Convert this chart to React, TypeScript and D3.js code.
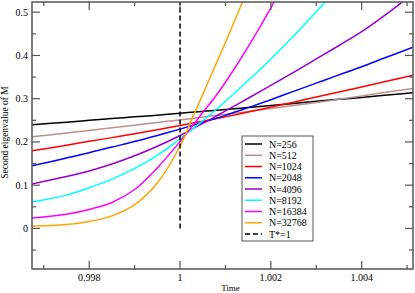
import * as d3 from 'd3'

// time grid shared by all series
const TIMES = [
  0.99674, 0.9975, 0.998, 0.9985, 0.999, 0.9995, 1.0, 1.00025, 1.0005, 1.00075,
  1.001, 1.0015, 1.002, 1.0025, 1.003, 1.0035, 1.004, 1.0045, 1.00513,
]

const N256 = [0.2395, 0.2457, 0.25, 0.254, 0.258, 0.262, 0.2665, 0.2686, 0.2707, 0.2728, 0.275, 0.2795, 0.2842, 0.289, 0.294, 0.2985, 0.303, 0.308, 0.314]
const N512 = [0.2118, 0.2206, 0.2266, 0.2327, 0.2388, 0.245, 0.251, 0.2543, 0.2576, 0.2609, 0.264, 0.2706, 0.2773, 0.284, 0.291, 0.2985, 0.306, 0.3145, 0.3238]
const N1024 = [0.1794, 0.1925, 0.2014, 0.21, 0.2187, 0.2282, 0.238, 0.243, 0.248, 0.253, 0.258, 0.269, 0.2805, 0.292, 0.304, 0.3155, 0.327, 0.339, 0.354]
const N2048 = [0.1448, 0.1628, 0.175, 0.1883, 0.201, 0.215, 0.2296, 0.2374, 0.2452, 0.2532, 0.2614, 0.2793, 0.2977, 0.317, 0.336, 0.355, 0.3737, 0.394, 0.419]
const N4096 = [0.103, 0.12, 0.133, 0.149, 0.168, 0.19, 0.215, 0.229, 0.243, 0.257, 0.272, 0.301, 0.331, 0.361, 0.392, 0.423, 0.455, 0.492, 0.543]
const N8192 = [0.061, 0.077, 0.094, 0.114, 0.139, 0.169, 0.207, 0.228, 0.249, 0.271, 0.294, 0.342, 0.392, 0.445, 0.501, 0.56, 0.62, 0.68, 0.76]
const N16384 = [0.024, 0.033, 0.044, 0.06, 0.09, 0.14, 0.201, 0.234, 0.268, 0.301, 0.338, 0.42, 0.51, 0.61, 0.71]
const N32768 = [0.005, 0.009, 0.016, 0.029, 0.055, 0.105, 0.19, 0.25, 0.31, 0.37, 0.43, 0.555, 0.68]

const SERIES = [
  { name: 'N=256', color: '#000000', values: N256 },
  { name: 'N=512', color: '#bc8f8f', values: N512 },
  { name: 'N=1024', color: '#ff0000', values: N1024 },
  { name: 'N=2048', color: '#0000ff', values: N2048 },
  { name: 'N=4096', color: '#9400d3', values: N4096 },
  { name: 'N=8192', color: '#00ffff', values: N8192 },
  { name: 'N=16384', color: '#ff00ff', values: N16384 },
  { name: 'N=32768', color: '#ffa500', values: N32768 },
]

const X_MAJOR = [0.998, 1, 1.002, 1.004]
const X_MINOR = [0.997, 0.999, 1.001, 1.003, 1.005]
const Y_MAJOR = [0, 0.1, 0.2, 0.3, 0.4, 0.5]
const Y_MINOR = [-0.05, 0.05, 0.15, 0.25, 0.35, 0.45]

const W = 415
const H = 293
const margin = { top: 2, right: 2, bottom: 24, left: 32 }
const FONT = '"Liberation Serif", "Times New Roman", serif'
const AXIS = '#555'

export default function App() {
  const innerW = W - margin.left - margin.right
  const innerH = H - margin.top - margin.bottom

  const x = d3.scaleLinear().domain([0.99674, 1.00513]).range([0, innerW])
  const y = d3.scaleLinear().domain([-0.0938, 0.5236]).range([innerH, 0])

  const line = d3
    .line<[number, number]>()
    .x((d) => x(d[0]))
    .y((d) => y(d[1]))
    .curve(d3.curveCatmullRom.alpha(0.5))

  const xLabel = (v: number) => (v === 1 ? '1' : d3.format('.3f')(v))

  const legendItems = [...SERIES.map((s) => ({ name: s.name, color: s.color, dash: null as string | null })), { name: 'T*=1', color: '#000', dash: '5,3' }]

  return (
    <div style={{ position: 'fixed', left: 0, top: 0, background: '#fff' }}>
      <svg width={W} height={H} style={{ display: 'block' }}>
        <defs>
          <clipPath id="plot-clip">
            <rect x={0} y={0} width={innerW} height={innerH} />
          </clipPath>
        </defs>
        <g transform={`translate(${margin.left},${margin.top})`}>
          <g clipPath="url(#plot-clip)">
            {SERIES.map((s) => (
              <path
                key={s.name}
                d={line(s.values.map((v, i) => [TIMES[i], v] as [number, number])) || ''}
                fill="none"
                stroke={s.color}
                strokeWidth={1.5}
              />
            ))}
            <line x1={x(1)} x2={x(1)} y1={y(0)} y2={0} stroke="#000" strokeWidth={1.5} strokeDasharray="5,3" />
          </g>

          {/* frame */}
          <rect x={0} y={0} width={innerW} height={innerH} fill="none" stroke={AXIS} strokeWidth={1.5} />

          {/* x ticks, bottom and top, pointing inward */}
          {X_MAJOR.map((v) => (
            <g key={'xM' + v}>
              <line x1={x(v)} x2={x(v)} y1={innerH} y2={innerH - 8} stroke={AXIS} strokeWidth={1.2} />
              <line x1={x(v)} x2={x(v)} y1={0} y2={8} stroke={AXIS} strokeWidth={1.2} />
              <text x={x(v)} y={innerH + 12} textAnchor="middle" fontFamily={FONT} fontSize={10} fill="#000">
                {xLabel(v)}
              </text>
            </g>
          ))}
          {X_MINOR.map((v) => (
            <g key={'xm' + v}>
              <line x1={x(v)} x2={x(v)} y1={innerH} y2={innerH - 4} stroke={AXIS} strokeWidth={1.2} />
              <line x1={x(v)} x2={x(v)} y1={0} y2={4} stroke={AXIS} strokeWidth={1.2} />
            </g>
          ))}

          {/* y ticks, left and right */}
          {Y_MAJOR.map((v) => (
            <g key={'yM' + v}>
              <line x1={0} x2={8} y1={y(v)} y2={y(v)} stroke={AXIS} strokeWidth={1.2} />
              <line x1={innerW} x2={innerW - 8} y1={y(v)} y2={y(v)} stroke={AXIS} strokeWidth={1.2} />
              <text x={-4} y={y(v) + 3.5} textAnchor="end" fontFamily={FONT} fontSize={10} fill="#000">
                {v === 0 ? '0' : String(v)}
              </text>
            </g>
          ))}
          {Y_MINOR.map((v) => (
            <g key={'ym' + v}>
              <line x1={0} x2={4} y1={y(v)} y2={y(v)} stroke={AXIS} strokeWidth={1.2} />
              <line x1={innerW} x2={innerW - 4} y1={y(v)} y2={y(v)} stroke={AXIS} strokeWidth={1.2} />
            </g>
          ))}

          <text x={innerW / 2 + 8} y={innerH + 22} textAnchor="middle" fontFamily={FONT} fontSize={9} fill="#000">
            Time
          </text>
          <text
            transform={`translate(${-24},${innerH / 2 - 3}) rotate(-90)`}
            textAnchor="middle"
            fontFamily={FONT}
            fontSize={9.5}
            fill="#000"
          >
            Second eigenvalue of M
          </text>

          {/* legend */}
          <g transform={`translate(${242 - margin.left},${136 - margin.top})`}>
            <rect x={0} y={0} width={71} height={105} fill="#fff" stroke={AXIS} strokeWidth={1} />
            {legendItems.map((it, i) => (
              <g key={it.name} transform={`translate(0,${8 + i * 11.25})`}>
                <line x1={3} x2={20} y1={0} y2={0} stroke={it.color} strokeWidth={1.5} strokeDasharray={it.dash || undefined} />
                <text x={27} y={3.5} fontFamily={FONT} fontSize={10} fill="#000">
                  {it.name}
                </text>
              </g>
            ))}
          </g>
        </g>
      </svg>
    </div>
  )
}
